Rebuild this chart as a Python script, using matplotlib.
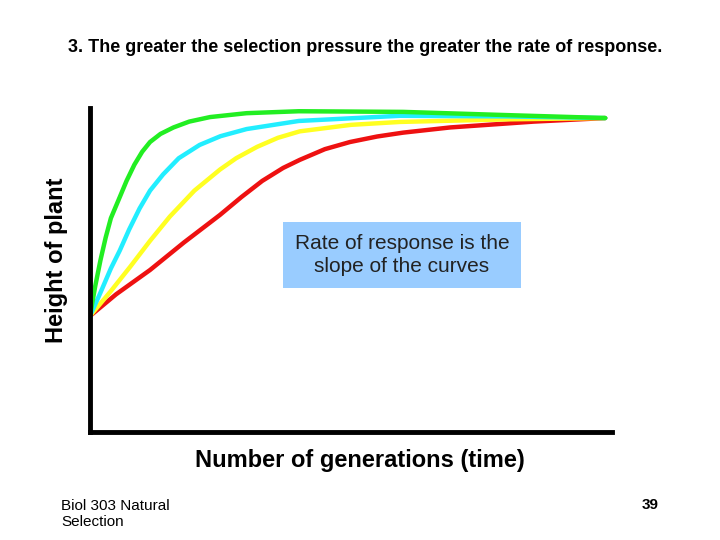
import matplotlib
matplotlib.use("Agg")
import matplotlib.pyplot as plt

# curves (x: 0-100 generations, y: 0-100 height)
green_x = [0, 1, 2, 3, 4, 5.7, 7, 8.5, 10, 11.5, 13.5, 16, 19, 23, 30, 40, 60, 80, 98.7]
green_y = [35.8, 45, 53, 60, 66, 72.5, 77.5, 82.5, 86.5, 89.5, 92, 94, 95.8, 97.2, 98.4, 99, 98.8, 97.8, 96.9]
cyan_x = [0, 2, 4, 5.7, 7.5, 9.5, 11.5, 14, 17, 21, 25, 30, 40, 59.4, 80, 98.7]
cyan_y = [35.8, 43, 50.5, 56, 62.5, 69, 74.5, 79.5, 84.5, 88.6, 91.3, 93.5, 96, 97.6, 97.4, 96.9]
yellow_x = [0, 4, 7.7, 11.5, 15.3, 20, 24.9, 28, 32, 36, 40.2, 50, 59.4, 80, 98.7]
yellow_y = [35.8, 43.5, 51, 59, 66.5, 74.5, 81, 84.5, 88, 90.8, 92.8, 94.8, 95.7, 96.5, 96.9]
red_x = [0, 5, 11.5, 18, 24.9, 29, 33, 37, 40.2, 45, 49.8, 55, 60, 69, 85, 98.7]
red_y = [35.8, 42.5, 50, 58.5, 67, 72.5, 77.5, 81.5, 84, 87.3, 89.5, 91.2, 92.4, 94, 95.8, 96.9]

fig = plt.figure(figsize=(7.2, 5.4), dpi=100)
ax = fig.add_axes([90/720, 1-432/540, 522/720, 324/540])
for xs, ys, c in [(red_x, red_y, "#ee1111"), (yellow_x, yellow_y, "#ffff22"),
                  (cyan_x, cyan_y, "#22eeff"), (green_x, green_y, "#22ee22")]:
    ax.plot(xs, ys, color=c, lw=3.2, solid_capstyle="round", solid_joinstyle="round")
ax.set_xlim(0, 100)
ax.set_ylim(0, 100)
ax.set_xticks([]); ax.set_yticks([])
for s in ["top", "right"]:
    ax.spines[s].set_visible(False)
for s in ["left", "bottom"]:
    ax.spines[s].set_linewidth(3.5)

fig.text(360/720, 1-460/540, "Number of generations (time)", ha="center", va="center",
         fontsize=17, fontweight="bold", family="Liberation Sans")
fig.text(56/720, 1-260/540, "Height of plant", ha="center", va="center", rotation=90,
         fontsize=17, fontweight="bold", family="Liberation Sans")
fig.text(365/720, 1-47/540, "3. The greater the selection pressure the greater the rate of response.",
         ha="center", va="center", fontsize=13, fontweight="bold", family="Liberation Sans")
fig.text(402/720, 1-255/540, "Rate of response is the\nslope of the curves", ha="center", va="center",
         fontsize=15, color="#222222", family="Liberation Sans", linespacing=1.3,
         bbox=dict(boxstyle="square,pad=0.55", fc="#99ccff", ec="none"))
fig.text(61/720, 1-514/540, "Biol 303 Natural\nSelection", ha="left", va="center",
         fontsize=11, family="Liberation Sans")
fig.text(650/720, 1-505/540, "39", ha="center", va="center", fontsize=11,
         fontweight="bold", family="Liberation Sans")
fig.savefig("out.png", dpi=100)
